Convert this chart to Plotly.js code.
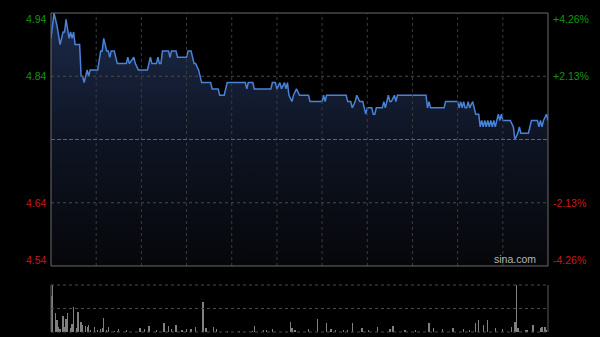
<!DOCTYPE html>
<html>
<head>
<meta charset="utf-8">
<script src="https://cdn.plot.ly/plotly-3.0.1.min.js"></script>
<style>
html,body{margin:0;padding:0;background:#000;}
#chart{width:600px;height:337px;}
</style>
</head>
<body>
<div id="chart"></div>
<script>
// ---- data (minute index from 09:30, lunch removed; 330 = 16:00) ----
var priceMinutes = [0,2,4,6,8,9,10,11,12,13,14,15,16,19,20,21,22,24,25,26,31,33,34,35,37,38,39,40,42,43,44,50,51,52,55,56,58,64,66,67,70,71,72,73,74,78,79,80,83,84,90,91,93,95,96,98,99,100,106,107,111,112,115,117,129,130,131,134,135,146,147,149,150,152,153,155,156,157,158,160,161,163,165,171,172,180,181,182,183,196,197,199,200,202,203,205,207,208,209,210,213,214,215,216,220,221,222,224,225,226,228,229,230,249,250,251,252,261,262,270,271,272,273,274,275,276,277,278,280,282,284,285,286,287,288,289,290,291,292,293,294,295,297,298,299,300,305,307,308,310,311,312,317,319,323,324,325,326,327,329,330];
var prices = [4.90,4.94,4.92,4.89,4.91,4.91,4.93,4.91,4.90,4.91,4.90,4.91,4.89,4.89,4.84,4.84,4.83,4.85,4.84,4.85,4.85,4.88,4.88,4.90,4.88,4.88,4.87,4.88,4.88,4.87,4.86,4.86,4.87,4.86,4.87,4.86,4.85,4.85,4.87,4.86,4.86,4.87,4.86,4.86,4.88,4.88,4.87,4.88,4.88,4.87,4.87,4.88,4.88,4.86,4.86,4.85,4.84,4.83,4.83,4.82,4.82,4.81,4.81,4.83,4.83,4.82,4.83,4.83,4.82,4.82,4.83,4.83,4.82,4.83,4.82,4.83,4.82,4.83,4.81,4.80,4.81,4.82,4.81,4.81,4.80,4.80,4.81,4.80,4.81,4.81,4.80,4.80,4.79,4.80,4.81,4.80,4.80,4.79,4.78,4.79,4.79,4.78,4.78,4.79,4.79,4.80,4.79,4.81,4.80,4.80,4.81,4.80,4.81,4.81,4.79,4.80,4.79,4.79,4.80,4.80,4.79,4.80,4.79,4.80,4.79,4.79,4.80,4.79,4.80,4.78,4.78,4.76,4.77,4.76,4.77,4.76,4.77,4.76,4.77,4.76,4.77,4.76,4.78,4.77,4.78,4.77,4.77,4.76,4.74,4.75,4.76,4.75,4.75,4.77,4.77,4.76,4.77,4.76,4.77,4.78,4.77];

var volMinutes = [0,1,3,4,5,6,8,9,10,11,13,14,15,17,18,20,21,23,24,25,26,29,31,33,34,35,37,38,42,44,45,50,59,62,65,70,75,78,80,83,87,90,93,96,101,103,108,110,117,125,134,135,141,143,147,159,160,162,171,177,183,186,189,194,197,200,206,207,211,217,225,227,235,242,251,254,260,267,274,278,282,284,287,290,295,300,306,308,309,310,315,316,320,325,326,328,329];
var volumes = [77,100,41,26,11,6,34,11,27,40,8,18,54,8,43,22,15,13,10,15,5,11,5,6,8,29,5,11,3,3,6,5,8,6,13,5,20,13,6,15,5,6,6,10,64,8,10,6,3,3,3,12,5,5,6,22,8,5,6,27,20,6,5,5,5,20,9,8,5,10,6,13,5,5,20,8,6,8,6,5,20,26,15,26,8,6,10,22,100,8,5,5,15,8,10,10,5];

var prevClose = 4.74;
var priceMin = 4.54, priceMax = 4.94;
var leftLabels = ['4.94','4.84','4.64','4.54'];
var labelValues = [4.94,4.84,4.64,4.54];
var rightLabels = ['+4.26%','+2.13%','-2.13%','-4.26%'];
var gridMinutes = [30,60,90,120,150,180,210,240,270,300];
var sessionEnd = 330;

var green = '#12960f', red = '#c81b1b';
var fontFam = '"Liberation Sans", Arial, sans-serif';

var traces = [
  {
    x: priceMinutes, y: prices, type: 'scatter', mode: 'lines',
    line: {color: '#4a82d8', width: 1.5},
    fill: 'tozeroy',
    fillgradient: {type: 'vertical', start: priceMin, stop: priceMax,
      colorscale: [[0,'rgb(6,7,10)'],[0.5,'rgb(14,20,35)'],[1,'rgb(28,42,74)']]},
    xaxis: 'x', yaxis: 'y', hoverinfo: 'skip'
  },
  {
    x: volMinutes, y: volumes, type: 'bar', width: 0.85,
    marker: {color: '#808080', line: {width: 0}},
    xaxis: 'x', yaxis: 'y2', hoverinfo: 'skip'
  }
];

var shapes = [];
gridMinutes.forEach(function(m){
  shapes.push({type:'line', xref:'x', yref:'y domain', x0:m, x1:m, y0:0, y1:1,
    line:{color:'#3c3c3c', width:1, dash:'dot'}, layer:'above'});
});
[labelValues[1], labelValues[2]].forEach(function(v){
  shapes.push({type:'line', xref:'paper', yref:'y', x0:0, x1:1, y0:v, y1:v,
    line:{color:'#4a4a4a', width:1, dash:'dot'}, layer:'above'});
});
shapes.push({type:'line', xref:'paper', yref:'y', x0:0, x1:1, y0:prevClose, y1:prevClose,
  line:{color:'#5b6570', width:1, dash:'4px,2px'}, layer:'above'});
shapes.push({type:'rect', xref:'paper', yref:'y domain', x0:0, x1:1, y0:0, y1:1,
  line:{color:'#6a6a6a', width:1}, layer:'above'});
// volume panel
[0, 0.5, 1].forEach(function(f){
  shapes.push({type:'line', xref:'paper', yref:'y2 domain', x0:0, x1:1, y0:f, y1:f,
    line:{color:'#4a4a4a', width:1, dash:'dot'}, layer:'above'});
});
[0,1].forEach(function(f){
  shapes.push({type:'line', xref:'paper', yref:'y2 domain', x0:f, x1:f, y0:0, y1:1,
    line:{color:'#5a5a5a', width:1}, layer:'above'});
});

var annotations = [];
var yshifts = [-6, 0, 0, 6];
leftLabels.forEach(function(t, i){
  var c = labelValues[i] > prevClose ? green : red;
  annotations.push({xref:'paper', yref:'y', x:0, y:labelValues[i], text:t, showarrow:false,
    xanchor:'right', yanchor:'middle', xshift:-2, yshift:yshifts[i],
    font:{family:fontFam, size:10.5, color:c}});
  annotations.push({xref:'paper', yref:'y', x:1, y:labelValues[i], text:rightLabels[i], showarrow:false,
    xanchor:'left', yanchor:'middle', xshift:3, yshift:yshifts[i],
    font:{family:fontFam, size:10.5, color:c}});
});
annotations.push({xref:'paper', yref:'y', x:1, y:priceMin, text:'sina.com', showarrow:false,
  xanchor:'right', yanchor:'bottom', xshift:-10, yshift:-1,
  font:{family:fontFam, size:10.5, color:'#b4b4b4'}});

var layout = {
  width: 600, height: 337,
  margin: {l:51, r:52, t:13, b:5, pad:0},
  paper_bgcolor: '#000', plot_bgcolor: '#000',
  showlegend: false,
  bargap: 0,
  xaxis: {range:[0, sessionEnd], showticklabels:false, showgrid:false, zeroline:false,
    showline:false, ticks:'', fixedrange:true, anchor:'y2'},
  yaxis: {domain:[0.2069, 1], range:[priceMin, priceMax], showticklabels:false, showgrid:false,
    zeroline:false, showline:false, ticks:'', fixedrange:true},
  yaxis2: {domain:[0, 0.1473], range:[0, 100], showticklabels:false, showgrid:false,
    zeroline:false, showline:false, ticks:'', fixedrange:true},
  shapes: shapes,
  annotations: annotations
};

Plotly.newPlot('chart', traces, layout, {staticPlot:true, displayModeBar:false});
</script>
</body>
</html>
